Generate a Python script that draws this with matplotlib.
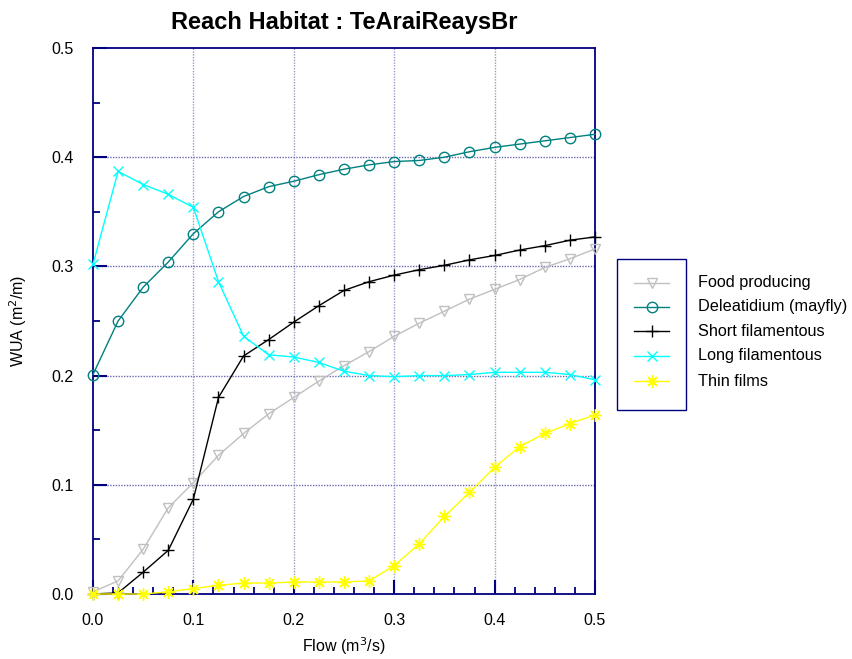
import matplotlib
matplotlib.use("Agg")
import matplotlib.pyplot as plt
from matplotlib.patches import Rectangle
from matplotlib.lines import Line2D
from matplotlib.ticker import MultipleLocator, FormatStrFormatter

plt.rcParams['font.family'] = ['Liberation Sans', 'DejaVu Sans']

flow = [0.0, 0.025, 0.05, 0.075, 0.1, 0.125, 0.15, 0.175, 0.2, 0.225, 0.25,
        0.275, 0.3, 0.325, 0.35, 0.375, 0.4, 0.425, 0.45, 0.475, 0.5]

food_producing = [0.002, 0.012, 0.041, 0.079, 0.102, 0.127, 0.147, 0.165, 0.180, 0.195, 0.209,
                  0.222, 0.236, 0.248, 0.259, 0.270, 0.279, 0.288, 0.299, 0.307, 0.316]
deleatidium = [0.201, 0.250, 0.281, 0.304, 0.330, 0.350, 0.364, 0.373, 0.378, 0.384, 0.389,
               0.393, 0.396, 0.397, 0.400, 0.405, 0.409, 0.412, 0.415, 0.418, 0.421]
short_fil = [0.0, 0.001, 0.020, 0.040, 0.087, 0.180, 0.218, 0.233, 0.249, 0.264, 0.278,
             0.286, 0.292, 0.297, 0.301, 0.306, 0.310, 0.315, 0.319, 0.324, 0.327]
long_fil = [0.302, 0.387, 0.375, 0.366, 0.354, 0.286, 0.236, 0.219, 0.217, 0.212, 0.204,
            0.200, 0.199, 0.200, 0.200, 0.201, 0.203, 0.203, 0.203, 0.201, 0.196]
thin_films = [0.0, 0.0, 0.0, 0.002, 0.005, 0.008, 0.010, 0.010, 0.011, 0.011, 0.011,
              0.012, 0.026, 0.046, 0.071, 0.093, 0.116, 0.135, 0.147, 0.156, 0.164]

series_names = ["Food producing", "Deleatidium (mayfly)", "Short filamentous",
                "Long filamentous", "Thin films"]
series_values = [food_producing, deleatidium, short_fil, long_fil, thin_films]
colors = ["#c0c0c0", "#008080", "#000000", "#00ffff", "#ffff00"]
markers = ["v", "o", "+", "x", (8, 2, 0)]
msizes = [7.5, 7.5, 9, 7.5, 9]
fills = ["none", "none", "full", "full", "full"]

fig = plt.figure(figsize=(8.52, 6.59), dpi=100)
ax = fig.add_axes([93/852, 65/659, (595-93)/852, (594-48)/659])

navy = "#000080"
for xv in [0.1, 0.2, 0.3, 0.4]:
    ax.axvline(xv, color="#9a9acc", lw=1.0, ls=(0, (1, 1)), zorder=0)
for yv in [0.1, 0.2, 0.3, 0.4]:
    ax.axhline(yv, color="#6a6ab4", lw=1.0, ls=(0, (1, 1)), zorder=0)

for name, vals, c, m, ms, f in zip(series_names, series_values, colors, markers, msizes, fills):
    mfc = "none" if f == "none" else c
    ax.plot(flow, vals, color=c, lw=1.0, marker=m, markersize=ms, mfc=mfc,
            mec=c, mew=1.0, clip_on=False, zorder=3)

ax.set_xlim(0, 0.5)
ax.set_ylim(0, 0.5)
ax.xaxis.set_major_locator(MultipleLocator(0.1))
ax.xaxis.set_minor_locator(MultipleLocator(0.02))
ax.yaxis.set_major_locator(MultipleLocator(0.1))
ax.yaxis.set_minor_locator(MultipleLocator(0.05))
ax.xaxis.set_major_formatter(FormatStrFormatter('%.1f'))
ax.yaxis.set_major_formatter(FormatStrFormatter('%.1f'))
ax.tick_params(which='major', direction='in', length=10, width=1.5, color=navy,
               labelsize=11.5, pad=14, top=False, right=False)
ax.tick_params(which='minor', direction='in', length=5, width=1.3, color=navy,
               top=False, right=False)
ax.tick_params(axis='y', which='major', pad=14)
for s in ax.spines.values():
    s.set_color(navy)
    s.set_linewidth(1.3)

ax.set_xlabel("Flow (m$^3$/s)", fontsize=11.5, labelpad=5)
ax.set_ylabel("WUA (m$^2$/m)", fontsize=11.5, labelpad=16)
fig.text(344/852, 1 - 22/659, "Reach Habitat : TeAraiReaysBr", ha='center', va='center',
         fontsize=17, fontweight='bold')

# legend box
W, H = 852, 659
fig.patches.append(Rectangle((617/W, 1 - 410/H), (686-617)/W, (410-259)/H,
                             transform=fig.transFigure, fill=False, edgecolor=navy, lw=1.0))
rows = [283, 307, 331, 356, 381]
for name, c, m, ms, f, ry in zip(series_names, colors, markers, msizes, fills, rows):
    yy = 1 - ry/H
    mfc = "none" if f == "none" else c
    fig.lines.append(Line2D([634/W, 669/W], [yy, yy], transform=fig.transFigure, color=c, lw=1.0))
    fig.lines.append(Line2D([651.5/W], [yy], transform=fig.transFigure, color=c, marker=m,
                            markersize=ms, mfc=mfc, mec=c, mew=1.0, ls='none'))
    fig.text(698/W, yy, name, fontsize=11.7, va='center', ha='left')

fig.savefig("out.png", dpi=100)
